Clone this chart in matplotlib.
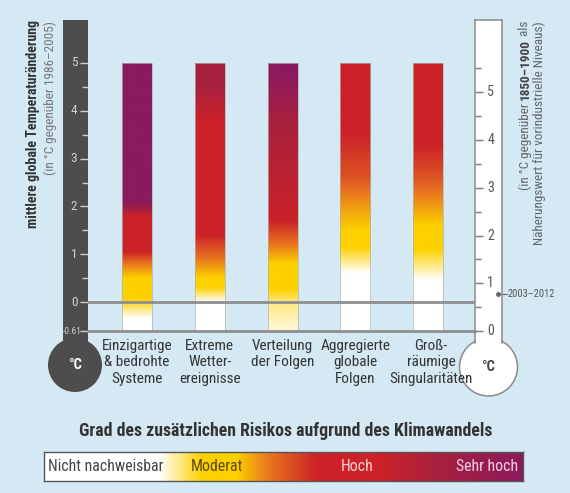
import numpy as np
import matplotlib
matplotlib.use("Agg")
import matplotlib.pyplot as plt
from matplotlib import font_manager
from matplotlib.colors import LinearSegmentedColormap
from matplotlib.patches import Rectangle, Ellipse
from matplotlib.transforms import blended_transform_factory

# ------------------------------------------------------------
# Schrift: schmale Sans, wenn vorhanden
# ------------------------------------------------------------
installiert = {f.name for f in font_manager.fontManager.ttflist}
SCHRIFT = next((n for n in ["Liberation Sans Narrow", "Roboto Condensed",
                            "Liberation Sans"] if n in installiert), "DejaVu Sans")
plt.rcParams['font.family'] = [SCHRIFT, 'DejaVu Sans']

# ------------------------------------------------------------
# Daten
# ------------------------------------------------------------
kategorien = ["Einzigartige\n& bedrohte\nSysteme",
              "Extreme\nWetter-\nereignisse",
              "Verteilung\nder Folgen",
              "Aggregierte\nglobale\nFolgen",
              "Groß-\nräumige\nSingularitäten"]

# Risikostufen: 0 nicht nachweisbar, 1 moderat, 2 hoch, 3 sehr hoch
stufen_werte = [0, 1, 1.5, 2, 2.4, 3]
stufen_farben = ['#ffffff', '#fdd100', '#e8761e', '#cc2229', '#a8213d', '#8b1a5e']

# Übergänge je Balken: Temperatur (°C ggü. 1986-2005) -> Risikostufe
balken_temp = [
    [-0.61, -0.35, 0.05, 0.5, 0.8, 1.05, 1.8, 2.1, 5.0],
    [-0.61, 0.0, 0.3, 0.5, 0.9, 1.4, 3.8, 4.5, 5.0],
    [-0.61, 0.0, 0.25, 0.8, 1.2, 1.7, 2.4, 3.8, 4.8, 5.0],
    [-0.61, 0.6, 1.15, 1.5, 2.0, 2.6, 3.5, 5.0],
    [-0.61, 0.45, 1.1, 1.6, 2.0, 2.6, 3.3, 5.0],
]
balken_stufe = [
    [0, 0, 1, 1, 1.5, 2, 2, 3, 3],
    [0, 0, 1, 1, 1.5, 2, 2, 2.4, 2.4],
    [0.15, 0.5, 1, 1, 1.5, 2, 2.15, 2.4, 3, 3],
    [0, 0, 1, 1, 1.3, 1.7, 2, 2],
    [0, 0, 1, 1, 1.3, 1.7, 2, 2],
]
balken_min, balken_max = -0.61, 5.0

ticks_links = [0, 1, 2, 3, 4, 5]
ticks_rechts = [0, 1, 2, 3, 4, 5]
versatz = 0.61          # 1986-2005 ggü. 1850-1900
beobachtet = 0.78       # 2003-2012 ggü. 1850-1900

legende_pos = [0.0, 0.24, 0.33, 0.40, 0.47, 0.57, 0.70, 0.82, 1.0]
legende_stufe = [0, 0, 1, 1, 1.5, 2, 2, 2.4, 3]
legende_text = ["Nicht nachweisbar", "Moderat", "Hoch", "Sehr hoch"]
legende_text_x = [0.008, 0.361, 0.653, 0.99]
legende_text_farbe = ['#444444', '#5e4a00', '#f6d6d6', '#f3d3e3']

# ------------------------------------------------------------
# Layout (Pixel der Vorlage)
# ------------------------------------------------------------
W, H = 570, 493
BG = '#d4e9f3'
PX_PRO_GRAD = 47.8
Y_NULL_PX = 302          # 0 °C links
Y_TOP_PX = 20


def fx(x):
    return x / W


def fy(y):
    return 1 - y / H


def wert(ypx):
    return (Y_NULL_PX - ypx) / PX_PRO_GRAD


cmap = LinearSegmentedColormap.from_list(
    'risiko', [(v / 3, c) for v, c in zip(stufen_werte, stufen_farben)])

fig = plt.figure(figsize=(W / 100, H / 100), dpi=100, facecolor=BG)

# ------------------------------------------------------------
# Hauptachse mit Balken
# ------------------------------------------------------------
x_links, x_rechts, y_unten = 88, 475, 331
ax = fig.add_axes([fx(x_links), fy(y_unten), (x_rechts - x_links) / W,
                   (y_unten - Y_TOP_PX) / H])
ax.set_facecolor('none')
ax.set_zorder(5)
abstand = 72.75
xlim = (-(137 - x_links) / abstand, 4 + (x_rechts - 428) / abstand)
ylim = (wert(y_unten), wert(Y_TOP_PX))
breite = 30 / abstand

ys = np.linspace(balken_min, balken_max, 400)
for i, (t, s) in enumerate(zip(balken_temp, balken_stufe)):
    stufe = np.interp(ys, t, s)
    ax.imshow(stufe[:, None], extent=[i - breite / 2, i + breite / 2, balken_min, balken_max],
              origin='lower', cmap=cmap, vmin=0, vmax=3, aspect='auto',
              interpolation='bilinear', zorder=2)
    ax.add_patch(Rectangle((i - breite / 2, balken_min), breite, balken_max - balken_min,
                           fill=False, edgecolor='#b0b0b0', lw=0.5, zorder=3))
    ax.text(i + (0.04 if i == 4 else 0), wert(339), kategorien[i], ha='center', va='top',
            fontsize=11, color='#333333', linespacing=1.22)

ax.axhline(0, color='#8e8e8e', lw=2, zorder=4)
ax.axhline(-versatz, color='#8e8e8e', lw=2, zorder=4, clip_on=False)
ax.set_xlim(xlim)
ax.set_ylim(ylim)
ax.axis('off')

# ------------------------------------------------------------
# Thermometer links (1986-2005)
# ------------------------------------------------------------
GRAU = '#4d4d4d'
ax_l = fig.add_axes([fx(63), fy(345), 25 / W, (345 - Y_TOP_PX) / H])
ax_l.set_facecolor(GRAU)
ax_l.set_ylim(wert(345), wert(Y_TOP_PX))
ax_l.set_xlim(0, 1)
for sp in ax_l.spines.values():
    sp.set_visible(False)
ax_l.add_patch(Ellipse((fx(75), fy(365)), 54 / W, 54 / H, transform=fig.transFigure,
                       facecolor=GRAU, edgecolor='none', clip_on=False, zorder=0.5))
ax_l.set_xticks([])
ax_l.set_yticks(ticks_links + [-versatz])
ax_l.set_yticks([v + 0.5 for v in ticks_links[:-1]], minor=True)
ax_l.tick_params(axis='y', which='both', left=False, right=True, direction='in',
                 color='#cfcfcf', width=1, labelleft=False, labelright=False)
ax_l.tick_params(axis='y', which='major', length=6)
ax_l.tick_params(axis='y', which='minor', length=4)
tr_l = blended_transform_factory(ax_l.transAxes, ax_l.transData)
for v in ticks_links:
    ax_l.text(0.44, v, str(v), transform=tr_l, ha='center', va='center',
              fontsize=9.5, color='#d0d0d0')
ax_l.text(0.36, -versatz, "-0.61", transform=tr_l, ha='center', va='center',
          fontsize=6.8, color='#d0d0d0')
fig.text(fx(75), fy(365), "°C", ha='center', va='center', color='white',
         fontsize=10.5, fontweight='bold')

# ------------------------------------------------------------
# Thermometer rechts (1850-1900)
# ------------------------------------------------------------
RAND = '#8a8a8a'
y_r_unten = 343
ax_r = fig.add_axes([fx(475), fy(y_r_unten), 27 / W, (y_r_unten - Y_TOP_PX) / H])
ax_r.set_facecolor('white')
ax_r.set_ylim(wert(y_r_unten) + versatz, wert(Y_TOP_PX) + versatz)
ax_r.set_xlim(0, 1)
for name, sp in ax_r.spines.items():
    sp.set_color(RAND)
    sp.set_linewidth(1.1)
ax_r.spines['bottom'].set_visible(False)
ax_r.add_patch(Ellipse((fx(488.5), fy(367)), 58 / W, 58 / H, transform=fig.transFigure,
                       facecolor='white', edgecolor=RAND, lw=1.1, clip_on=False, zorder=0.5))
ax_r.add_patch(Rectangle((fx(476), fy(348)), 25 / W, 12 / H, transform=fig.transFigure,
                         facecolor='white', edgecolor='none', clip_on=False, zorder=0.6))
ax_r.set_xticks([])
ax_r.set_yticks(ticks_rechts)
ax_r.set_yticks([v + 0.5 for v in ticks_rechts], minor=True)
ax_r.tick_params(axis='y', which='both', left=True, right=False, direction='in',
                 color='#777777', width=1, labelleft=False, labelright=False)
ax_r.tick_params(axis='y', which='major', length=6)
ax_r.tick_params(axis='y', which='minor', length=4)
tr_r = blended_transform_factory(ax_r.transAxes, ax_r.transData)
for v in ticks_rechts:
    ax_r.text(0.58, v, str(v), transform=tr_r, ha='center', va='center',
              fontsize=10, color='#555555')
ax_r.plot([0.82, 1.2], [beobachtet, beobachtet], transform=tr_r, color='#666666',
          lw=0.8, clip_on=False)
ax_r.plot([0.85], [beobachtet], 'o', ms=2.5, transform=tr_r, color='#666666', clip_on=False)
ax_r.text(1.22, beobachtet, "2003–2012", transform=tr_r, ha='left', va='center',
          fontsize=7.5, color='#555555')
fig.text(fx(488.5), fy(367), "°C", ha='center', va='center', color='#444444',
         fontsize=10.5, fontweight='bold')

# ------------------------------------------------------------
# Achsenbeschriftungen
# ------------------------------------------------------------
fig.text(fx(33), fy(20), "mittlere globale Temperaturänderung", rotation=90,
         ha='center', va='top', fontsize=10, fontweight='bold', color='#333333')
fig.text(fx(50), fy(21), "(in °C gegenüber 1986–2005)", rotation=90,
         ha='center', va='top', fontsize=9.5, color='#777777')

renderer = fig.canvas.get_renderer()
teile = [(" als", 'normal', '#666666'), ("1850–1900", 'bold', '#444444'),
         ("(in °C gegenüber ", 'normal', '#666666')]
y_oben = fy(21)
for txt, gewicht, farbe in teile:
    t = fig.text(fx(525), y_oben, txt, rotation=90, ha='center', va='top',
                 fontsize=9.5, fontweight=gewicht, color=farbe)
    bb = t.get_window_extent(renderer)
    y_oben = fig.transFigure.inverted().transform((0, bb.y0))[1]
fig.text(fx(539), fy(21), "Näherungswert für vorindustrielle Niveaus)", rotation=90,
         ha='center', va='top', fontsize=9.5, color='#666666')

# ------------------------------------------------------------
# Legende
# ------------------------------------------------------------
fig.text(fx(286), fy(431), "Grad des zusätzlichen Risikos aufgrund des Klimawandels",
         ha='center', va='center', fontsize=12.8, fontweight='bold', color='#333333')

lax = fig.add_axes([fx(44), fy(481), (523 - 44) / W, 29 / H])
xs = np.linspace(0, 1, 600)
lax.imshow(np.interp(xs, legende_pos, legende_stufe)[None, :], extent=[0, 1, 0, 1],
           cmap=cmap, vmin=0, vmax=3, aspect='auto', interpolation='bilinear')
lax.set_xlim(0, 1)
lax.set_ylim(0, 1)
lax.set_xticks([])
lax.set_yticks([])
for sp in lax.spines.values():
    sp.set_color('#555555')
    sp.set_linewidth(1)
for txt, x, farbe in zip(legende_text, legende_text_x, legende_text_farbe):
    ha = 'left' if x < 0.1 else ('right' if x > 0.9 else 'center')
    lax.text(x, 0.5, txt, ha=ha, va='center', fontsize=11.3, color=farbe)

fig.savefig('out.png', dpi=100, facecolor=BG)
